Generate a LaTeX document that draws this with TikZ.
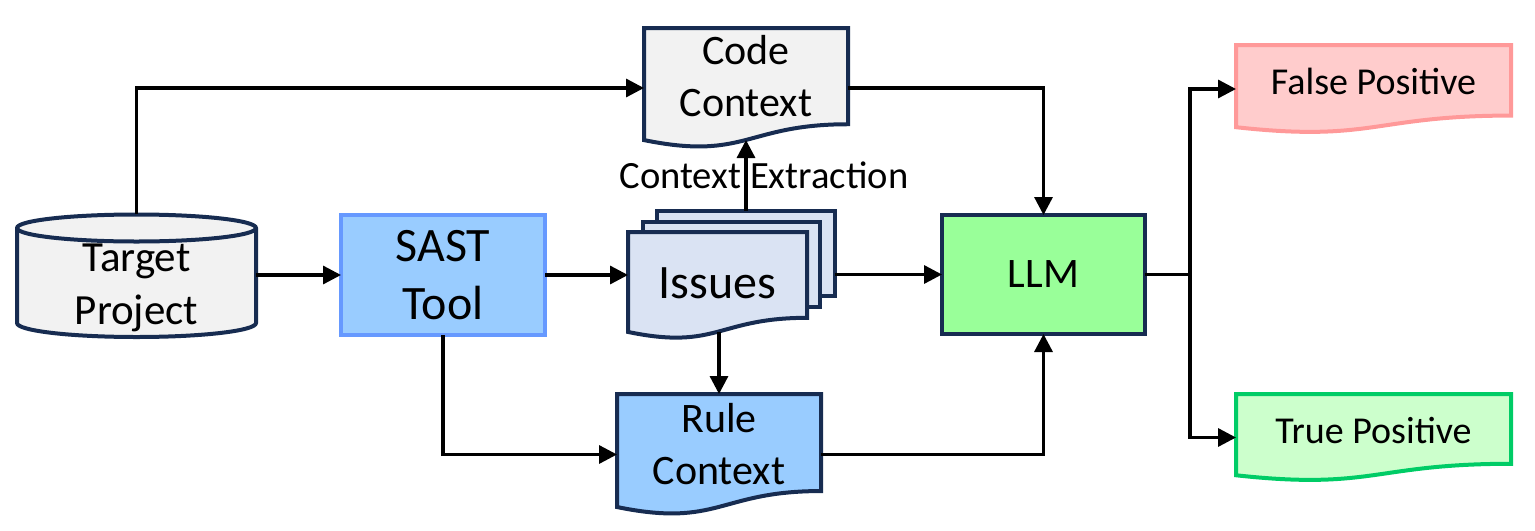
\documentclass[tikz,border=0pt]{standalone}
\usepackage{fontspec}
\setmainfont{Carlito}
\usetikzlibrary{arrows.meta}
\definecolor{navy}{HTML}{172C51}
\definecolor{grayfill}{HTML}{F2F2F2}
\definecolor{issfill}{HTML}{DAE3F3}
\definecolor{bluefill}{HTML}{99CCFF}
\definecolor{bluedraw}{HTML}{6699FF}
\definecolor{llmfill}{HTML}{99FF99}
\definecolor{fpfill}{HTML}{FFCCCC}
\definecolor{fpdraw}{HTML}{FF9999}
\definecolor{tpfill}{HTML}{CCFFCC}
\definecolor{tpdraw}{HTML}{00CC66}
\newcommand\docshape[5]{%
\path[#1] (#2,#3) -- (#4,#3) -- (#4,{#3+0.802*#5}) .. controls ({(#2+#4)/2},{#3+0.802*#5}) and ({(#2+#4)/2},{#3+1.107*#5}) .. (#2,{#3+0.934*#5}) -- cycle;}
\tikzset{
  conn/.style={draw=black, line width=1.65pt, -{Triangle[length=9pt,width=9pt]}},
  plain/.style={draw=black, line width=1.65pt},
  holder/.style={inner sep=0pt, outer sep=0pt, rectangle},
  shapeline/.style={line width=2pt, draw=navy},
  txtbig/.style={font=\fontsize{21}{26}\selectfont, align=center, inner sep=0pt},
  boxnode/.style={rectangle, line width=2pt, inner sep=0pt, outer sep=0pt, align=center}
}
\begin{document}
\begin{tikzpicture}[x=0.5pt,y=-0.5pt]
\useasboundingbox (0,0) rectangle (1535,530);

% Target Project cylinder
\path[fill=grayfill, shapeline] (17,228) -- (17,323) arc[start angle=180,end angle=360,x radius=59.75pt,y radius=7pt] -- (256,228) arc[start angle=0,end angle=180,x radius=59.75pt,y radius=6.75pt] -- cycle;
\draw[shapeline] (17,228) arc[start angle=180,end angle=360,x radius=59.75pt,y radius=6.75pt];
\node[holder, minimum width=119.5pt, minimum height=61pt] (proj) at (136.5,275) {};
\node[font=\fontsize{21.5}{26.5}\selectfont, align=center, inner sep=0pt] (projtxt) at (136.5,288) {Target\\Project};

% SAST Tool
\node[boxnode, fill=bluefill, draw=bluedraw, minimum width=102pt, minimum height=60pt, font=\fontsize{24}{29}\selectfont] (sast) at (443,275) {SAST\\Tool};

% Code Context
\docshape{fill=grayfill, shapeline}{644}{28}{848}{120}
\node[holder, minimum width=102pt, minimum height=60pt] (cc) at (746,88) {};
\node[txtbig] (cctxt) at (746,76) {Code\\Context};
\coordinate (ccb) at (746,140);

% Issues (multi document)
\node[boxnode, fill=issfill, draw=navy, minimum width=89pt, minimum height=42.5pt] (iss3) at (746,253.5) {};
\node[boxnode, fill=issfill, draw=navy, minimum width=88.5pt, minimum height=42.5pt] (iss2) at (731.5,264.5) {};
\docshape{fill=issfill, shapeline}{628}{232}{807}{107}
\node[holder, minimum width=89.5pt, minimum height=53.5pt] (iss) at (717.5,285.5) {};
\node[font=\fontsize{24}{29}\selectfont, inner sep=0pt] (isstxt) at (717.5,283) {Issues};
\coordinate (issb) at (718,332);

% Rule Context
\docshape{fill=bluefill, shapeline}{617}{394}{821}{121}
\node[holder, minimum width=102pt, minimum height=60.5pt] (rc) at (719,454.5) {};
\node[txtbig] (rctxt) at (719,444) {Rule\\Context};

% LLM
\node[boxnode, fill=llmfill, draw=navy, minimum width=101.5pt, minimum height=59.5pt, font=\fontsize{21}{26}\selectfont] (llm) at (1043.5,274.5) {LLM};

% False Positive / True Positive
\docshape{fill=fpfill, draw=fpdraw, line width=2pt}{1236}{45}{1511}{88}
\node[holder, minimum width=137.5pt, minimum height=44pt] (fpos) at (1373.5,89) {};
\node[font=\fontsize{19}{23}\selectfont, inner sep=0pt] (fptxt) at (1373.5,81) {False Positive};

\docshape{fill=tpfill, draw=tpdraw, line width=2pt}{1236}{394}{1511}{87}
\node[holder, minimum width=137.5pt, minimum height=43.5pt] (tpos) at (1373.5,437.5) {};
\node[font=\fontsize{19}{23}\selectfont, inner sep=0pt] (tptxt) at (1373.5,430) {True Positive};

% label
\node[font=\fontsize{19.3}{23}\selectfont, inner sep=0pt] (celabel) at (764,175) {Context Extraction};

% connectors
\draw[conn] (proj.north) |- (cc.west);
\draw[conn] (proj.east) -- (sast.west);
\draw[conn] (sast.east) -- (sast.east -| iss.west);
\draw[conn] (iss3.east |- llm.west) -- (llm.west);
\draw[conn] (iss3.north) -- (ccb);
\draw[conn] (rc.north |- issb) -- (rc.north);
\draw[conn] (sast.south) |- (rc.west);
\draw[conn] (cc.east) -| (llm.north);
\draw[conn] (rc.east) -| (llm.south);
\coordinate (split) at (1190,274.5);
\draw[plain] (llm.east) -- (split);
\draw[conn] (split) |- (fpos.west);
\draw[conn] (split) |- (tpos.west);
\end{tikzpicture}
\end{document}
